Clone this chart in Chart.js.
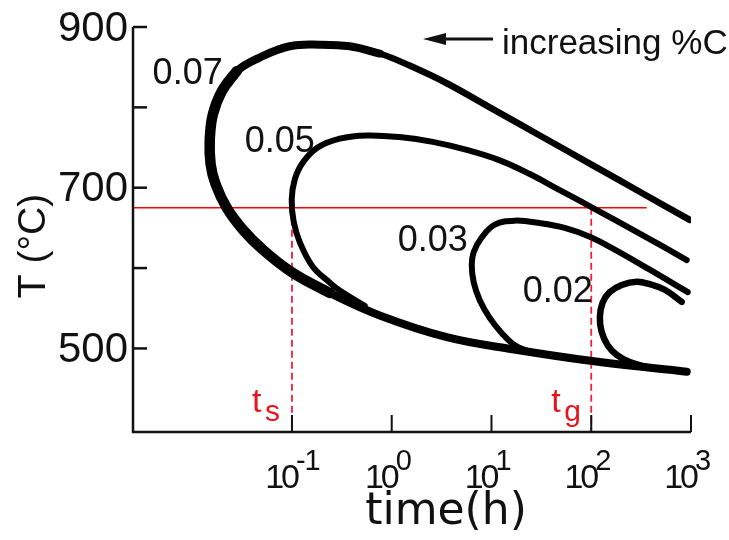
<!DOCTYPE html>
<html>
<head>
<meta charset="utf-8">
<script src="https://cdn.jsdelivr.net/npm/chart.js@4.4.0/dist/chart.umd.min.js"></script>
<style>
  html, body { margin: 0; padding: 0; background: #fff; }
</style>
</head>
<body>
<canvas id="tttChart" width="729" height="540"></canvas>
<script>
// C-curves, time (h) and temperature (°C)
const time007 = [970, 306, 96.6, 30.5, 9.6, 3.56, 1.51, 0.758, 0.379, 0.19, 0.095, 0.0475, 0.0279, 0.0198, 0.0161, 0.015, 0.0153, 0.0172, 0.0222, 0.0321, 0.0509, 0.102, 0.239, 0.758, 3.56, 16.3, 122, 906];
const temp007 = [660, 695, 730, 765, 800, 830, 852, 867, 876, 878, 876, 862, 845, 820, 791, 760, 729, 704, 675, 648, 623, 594, 569, 541, 514, 499, 483, 471];

const time005 = [906, 306, 103.5, 48.3, 24.2, 12.1, 5.65, 2.58, 1.2, 0.561, 0.301, 0.181, 0.128, 0.1066, 0.0994, 0.104, 0.12, 0.161, 0.239, 0.301, 0.536];
const temp005 = [610, 643, 675, 697, 717, 734, 747, 757, 763, 765, 761, 750, 731, 710, 685, 658, 632, 602, 582, 572, 553];

const time003 = [927, 386, 172, 96.6, 54.2, 30.5, 17.1, 10.8, 7.98, 6.64, 6.34, 6.64, 7.63, 9.6, 12.7, 17.1, 24.2];
const temp003 = [570, 598, 623, 639, 650, 656, 659, 654, 638, 620, 604, 582, 560, 538, 519, 504, 496];

const time002 = [807, 546, 386, 286, 202, 153, 130, 122, 127, 146, 180, 243, 360];
const temp002 = [558, 573, 580, 583, 579, 570, 557, 539, 521, 504, 492, 483, 477];

const curveNames = ["0.07", "0.05", "0.03", "0.02"];
// where each curve's name sits (time, temp)
const nameTime = [0.009, 0.0754, 2.58, 46.1];
const nameTemp = [841, 757, 634, 570];

// holding temperature and the two times marked on it
const holdTemp = 675;
const holdLineEnd = 360;
const markTimes = [0.1, 100];
const markNames = ["s", "g"];

const xMin = 0.00255, xMax = 1000;
const yMin = 396, yMax = 900;
const xTicks = [0.1, 1, 10, 100, 1000];
const xTickExp = ["-1", "0", "1", "2", "3"];
const yTicks = [500, 600, 700, 800, 900];
const yTickLabels = ["500", "", "700", "", "900"];

const pts = (ts, Ts) => ts.map((t, i) => ({ x: t, y: Ts[i] }));

function curve(ts, Ts, width) {
  return {
    data: pts(ts, Ts),
    borderColor: "#000",
    borderWidth: width,
    tension: 0.4,
    pointRadius: 0,
    fill: false,
    borderCapStyle: "round",
    borderJoinStyle: "round",
  };
}

const inwardAxes = {
  id: "inwardAxes",
  afterDraw(chart) {
    const { ctx, chartArea: a, scales } = chart;
    const x = scales.x, y = scales.y;
    ctx.save();
    ctx.strokeStyle = "#111";
    ctx.fillStyle = "#111";
    ctx.lineWidth = 2.5;
    ctx.beginPath();
    ctx.moveTo(a.left, a.top);
    ctx.lineTo(a.left, a.bottom);
    ctx.lineTo(a.right, a.bottom);
    ctx.stroke();

    // y ticks point into the plot
    ctx.font = '42px "Liberation Sans", Arial, sans-serif';
    ctx.textAlign = "right";
    ctx.textBaseline = "middle";
    yTicks.forEach((v, i) => {
      const py = y.getPixelForValue(v);
      ctx.beginPath();
      ctx.moveTo(a.left, py);
      ctx.lineTo(a.left + 14, py);
      ctx.stroke();
      if (yTickLabels[i]) ctx.fillText(yTickLabels[i], a.left - 5, py + 2);
    });

    // x ticks, decades
    ctx.lineWidth = 2;
    ctx.textBaseline = "alphabetic";
    xTicks.forEach((v, i) => {
      const px = x.getPixelForValue(v);
      ctx.beginPath();
      ctx.moveTo(px, a.bottom);
      ctx.lineTo(px, a.bottom - 17);
      ctx.stroke();
      ctx.font = '34px "Liberation Sans", Arial, sans-serif';
      ctx.letterSpacing = "-3px";
      ctx.textAlign = "right";
      ctx.fillText("10", px + 5, a.bottom + 56);
      ctx.font = '29px "Liberation Sans", Arial, sans-serif';
      ctx.letterSpacing = "-1px";
      ctx.textAlign = "left";
      ctx.fillText(xTickExp[i], px + 4, a.bottom + 38);
    });
    ctx.letterSpacing = "0px";

    // axis titles
    ctx.font = '44px "DejaVu Sans", sans-serif';
    ctx.textAlign = "center";
    ctx.fillText("time(h)", 446, 524);
    ctx.save();
    ctx.translate(45, 246);
    ctx.rotate(-Math.PI / 2);
    ctx.font = '39px "Liberation Sans", Arial, sans-serif';
    ctx.fillText("T (\u00B0C)", 0, 0);
    ctx.restore();

    // curve names
    ctx.font = '36px "Liberation Sans", Arial, sans-serif';
    ctx.textBaseline = "middle";
    curveNames.forEach((n, i) => {
      ctx.fillText(n, x.getPixelForValue(nameTime[i]), y.getPixelForValue(nameTemp[i]));
    });

    // arrow note
    ctx.lineWidth = 3;
    ctx.beginPath();
    ctx.moveTo(440, 39);
    ctx.lineTo(493, 39);
    ctx.stroke();
    ctx.beginPath();
    ctx.moveTo(423, 39);
    ctx.lineTo(446, 33);
    ctx.lineTo(446, 45);
    ctx.closePath();
    ctx.fill();
    ctx.font = '35px "Liberation Sans", Arial, sans-serif';
    ctx.textAlign = "left";
    ctx.textBaseline = "alphabetic";
    ctx.fillText("increasing %C", 502, 54);

    // t_s and t_g
    ctx.fillStyle = "#e8141c";
    markTimes.forEach((t, i) => {
      const px = x.getPixelForValue(t);
      ctx.font = '34px "Liberation Sans", Arial, sans-serif';
      ctx.fillText("t", px - 40, a.bottom - 20);
      ctx.font = '30px "Liberation Sans", Arial, sans-serif';
      ctx.fillText(markNames[i], px - 27, a.bottom - 11);
    });
    ctx.restore();
  },
};

const redDash = (t) => ({
  data: [{ x: t, y: holdTemp }, { x: t, y: yMin }],
  borderColor: "#f0203a",
  borderWidth: 1.8,
  borderDash: [7, 4],
  pointRadius: 0,
  fill: false,
});

// the 0.07 pen gets heavier round the nose: thicker passes over parts of the same curve
const heavy1 = curve(time007.slice(7), temp007.slice(7), 8);
const heavy2 = curve(time007.slice(12, 23), temp007.slice(12, 23), 10.5);

new Chart(document.getElementById("tttChart"), {
  type: "line",
  data: {
    datasets: [
      curve(time007, temp007, 6.5),
      heavy1,
      heavy2,
      curve(time005, temp005, 6),
      curve(time003, temp003, 6),
      curve(time002, temp002, 6.5),
      {
        data: [{ x: xMin, y: holdTemp }, { x: holdLineEnd, y: holdTemp }],
        borderColor: "#ff0000",
        borderWidth: 1.6,
        pointRadius: 0,
        fill: false,
      },
      redDash(markTimes[0]),
      redDash(markTimes[1]),
    ],
  },
  options: {
    responsive: false,
    animation: false,
    layout: { padding: { left: 133, right: 38, top: 27, bottom: 108 } },
    scales: {
      x: { type: "logarithmic", min: xMin, max: xMax, display: false },
      y: { type: "linear", min: yMin, max: yMax, display: false },
    },
    plugins: {
      legend: { display: false },
      tooltip: { enabled: false },
    },
  },
  plugins: [inwardAxes],
});
</script>
</body>
</html>
